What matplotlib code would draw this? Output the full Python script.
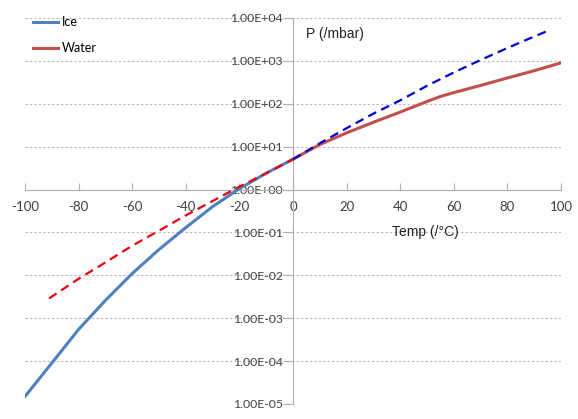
import matplotlib
matplotlib.use('Agg')
import matplotlib.pyplot as plt
from matplotlib.ticker import FixedLocator, FuncFormatter

plt.rcParams['axes.unicode_minus'] = False

# ice (solid) and its extrapolation above 0 (dashed)
ice_t = [-100, -90, -80, -70, -60, -50, -40, -30, -20, -10, 0]
ice_p = [1.5e-5, 9.0e-5, 5.5e-4, 2.6e-3, 1.1e-2, 4.0e-2, 0.13, 0.40, 1.05, 2.4, 5.1]
ice_ext_t = [0, 10, 20, 30, 40, 50, 60, 70, 80, 90, 95]
ice_ext_p = [5.1, 12.0, 27, 59, 120, 263, 537, 1050, 2000, 3700, 5000]

# water (solid) and supercooled water (dashed)
water_t = [0, 10, 20, 30, 40, 50, 55, 60, 70, 80, 90, 100]
water_p = [5.1, 11.2, 21, 37, 64, 113, 148, 182, 268, 400, 590, 900]
sc_t = [-91, -80, -70, -60, -50, -40, -30, -20, -10, 0]
sc_p = [2.9e-3, 8.3e-3, 2.0e-2, 4.9e-2, 0.11, 0.25, 0.54, 1.17, 2.4, 5.1]

x_ticks = [-100, -80, -60, -40, -20, 0, 20, 40, 60, 80, 100]
y_ticks = [1e-5, 1e-4, 1e-3, 1e-2, 1e-1, 1e0, 1e1, 1e2, 1e3, 1e4]

fig = plt.figure(figsize=(5.78, 4.19), dpi=100)
ax = fig.add_axes([25/578, 15/419, 536/578, 386/419])

ax.plot(ice_t, ice_p, color='#4F81BD', lw=2.2, label='Ice', zorder=3)
ax.plot(water_t, water_p, color='#C0504D', lw=2.2, label='Water', zorder=3)
ax.plot(sc_t, sc_p, color='#E8000B', lw=1.6, ls=(0, (4, 2.5)), zorder=4)
ax.plot(ice_ext_t, ice_ext_p, color='#0000D0', lw=1.6, ls=(0, (4, 2.5)), zorder=4)

ax.set_yscale('log')
ax.set_xlim(-100, 100)
ax.set_ylim(1e-5, 1e4)

ax.xaxis.set_major_locator(FixedLocator(x_ticks))
ax.yaxis.set_major_locator(FixedLocator(y_ticks))
ax.yaxis.set_minor_locator(FixedLocator([]))
ax.yaxis.set_major_formatter(FuncFormatter(lambda v, p: '%.2E' % v))

for s in ['top', 'right']:
    ax.spines[s].set_visible(False)
ax.spines['left'].set_position(('data', 0))
ax.spines['bottom'].set_position(('data', 1))
ax.spines['left'].set_color('#B0B0B0')
ax.spines['bottom'].set_color('#B0B0B0')

ax.tick_params(axis='x', direction='in', length=5, color='#B0B0B0',
               labelsize=9.5, labelcolor='#404040', pad=8)
ax.tick_params(axis='y', direction='out', length=7, color='#B0B0B0',
               labelsize=8.8, labelcolor='#404040', pad=0.5)
for lab in ax.get_xticklabels() + ax.get_yticklabels():
    lab.set_family('Lato')

ax.yaxis.grid(True, ls=(0, (2, 2)), color='#B8B8B8', lw=0.8)
ax.set_axisbelow(True)

ax.text(5, 4.2e3, 'P (/mbar)', fontsize=10, family='Liberation Sans', color='#222222',
        va='center')
ax.text(37, 0.1, 'Temp (/°C)', fontsize=10, family='Liberation Sans', color='#222222',
        va='center')

leg = ax.legend(loc='upper left', bbox_to_anchor=(0.005, 1.018), frameon=False,
                handlelength=2.0, handletextpad=0.3, labelspacing=1.15,
                prop={'family': 'Lato', 'size': 9}, borderaxespad=0)

fig.savefig('out.png', dpi=100)
